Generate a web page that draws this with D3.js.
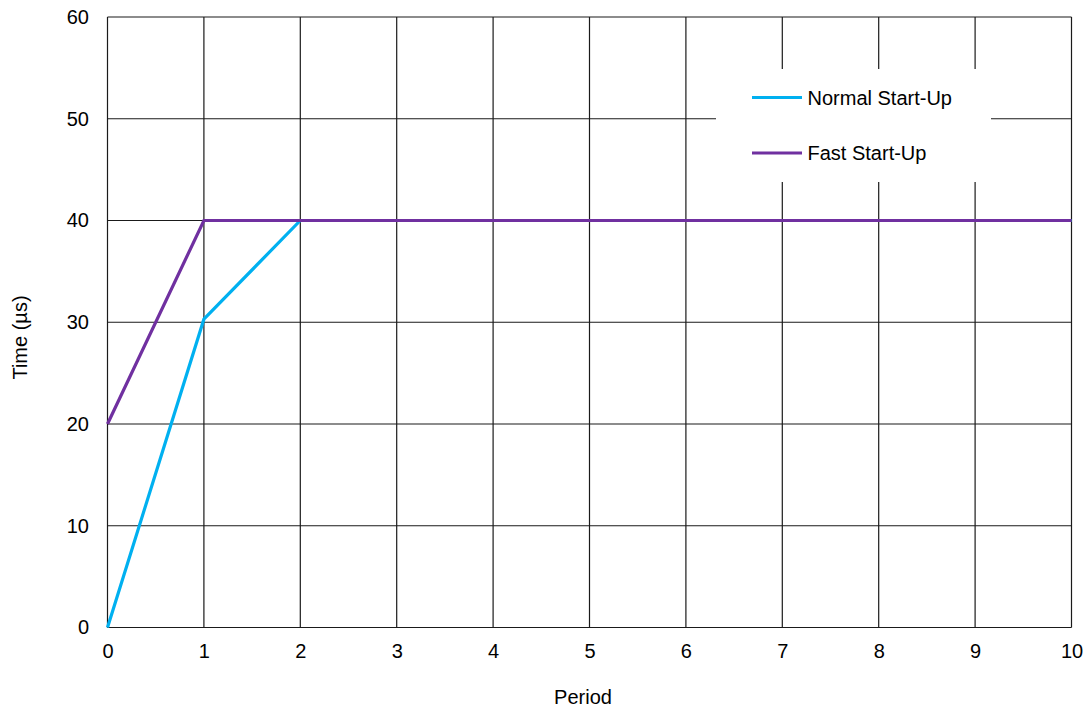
<!DOCTYPE html>
<html>
<head>
<meta charset="utf-8">
<script src="https://cdn.jsdelivr.net/npm/d3@7"></script>
<style>
  body { margin: 0; background: #fff; }
  svg { display: block; font-family: "Liberation Sans", Arial, sans-serif; }
</style>
</head>
<body>
<svg id="chart" width="1089" height="711"></svg>
<script>
const periods = [0, 1, 2, 3, 4, 5, 6, 7, 8, 9, 10];
const normalStartUp = [0, 30.3, 40, 40, 40, 40, 40, 40, 40, 40, 40];
const fastStartUp = [20, 40, 40, 40, 40, 40, 40, 40, 40, 40, 40];
const seriesNames = ["Normal Start-Up", "Fast Start-Up"];
const seriesColors = ["#00B0F0", "#7030A0"];
const xTicks = [0, 1, 2, 3, 4, 5, 6, 7, 8, 9, 10];
const yTicks = [0, 10, 20, 30, 40, 50, 60];

(function () {
const svg = d3.select("#chart");
const pLeft = 107.5, pRight = 1071.5, pTop = 17, pBottom = 627.5;
const FS = 20;
const x = d3.scaleLinear().domain([0, 10]).range([pLeft, pRight]);
const y = d3.scaleLinear().domain([0, 60]).range([pBottom, pTop]);

// grid
const grid = svg.append("g");
grid.selectAll("line.v").data(xTicks).join("line").attr("class", "v")
  .attr("x1", d => x(d)).attr("x2", d => x(d))
  .attr("y1", pTop).attr("y2", pBottom)
  .attr("stroke", "#1a1a1a").attr("stroke-width", 1.2);
grid.selectAll("line.h").data(yTicks).join("line").attr("class", "h")
  .attr("x1", pLeft).attr("x2", pRight)
  .attr("y1", d => y(d)).attr("y2", d => y(d))
  .attr("stroke", "#1a1a1a").attr("stroke-width", 1.2);

// axes labels
const xAxis = d3.axisBottom(x).tickValues(xTicks).tickSize(0).tickPadding(16);
const gx = svg.append("g").attr("transform", `translate(0,${pBottom})`).call(xAxis);
gx.select(".domain").remove();
gx.selectAll("text").attr("font-size", FS).attr("fill", "#000")
  .attr("font-family", "Liberation Sans, Arial, sans-serif");

const yAxis = d3.axisLeft(y).tickValues(yTicks).tickSize(0).tickPadding(18.5);
const gy = svg.append("g").attr("transform", `translate(${pLeft},0)`).call(yAxis);
gy.select(".domain").remove();
gy.selectAll("text").attr("font-size", FS).attr("fill", "#000")
  .attr("font-family", "Liberation Sans, Arial, sans-serif");

svg.append("text").attr("x", 583).attr("y", 704)
  .attr("text-anchor", "middle").attr("font-size", FS).text("Period");
svg.append("text").attr("transform", `translate(27,337.5) rotate(-90)`)
  .attr("text-anchor", "middle").attr("font-size", FS).text("Time (µs)");

// legend background
svg.append("rect").attr("x", 716).attr("y", 69).attr("width", 275).attr("height", 113)
  .attr("fill", "#fff");

// lines
const line = d3.line().x((d, i) => x(periods[i])).y(d => y(d));
[normalStartUp, fastStartUp].forEach((vals, k) => {
  svg.append("path").datum(vals).attr("d", line)
    .attr("fill", "none").attr("stroke", seriesColors[k])
    .attr("stroke-width", 3.2).attr("stroke-linejoin", "miter");
});

// legend
const leg = svg.append("g");
seriesNames.forEach((name, k) => {
  const ly = 97.5 + k * 55.5;
  leg.append("line").attr("x1", 752).attr("x2", 802).attr("y1", ly).attr("y2", ly)
    .attr("stroke", seriesColors[k]).attr("stroke-width", 3.2);
  leg.append("text").attr("x", 807.5).attr("y", ly + 7).attr("font-size", FS)
    .attr("fill", "#000").text(name);
});
})();
</script>
</body>
</html>
